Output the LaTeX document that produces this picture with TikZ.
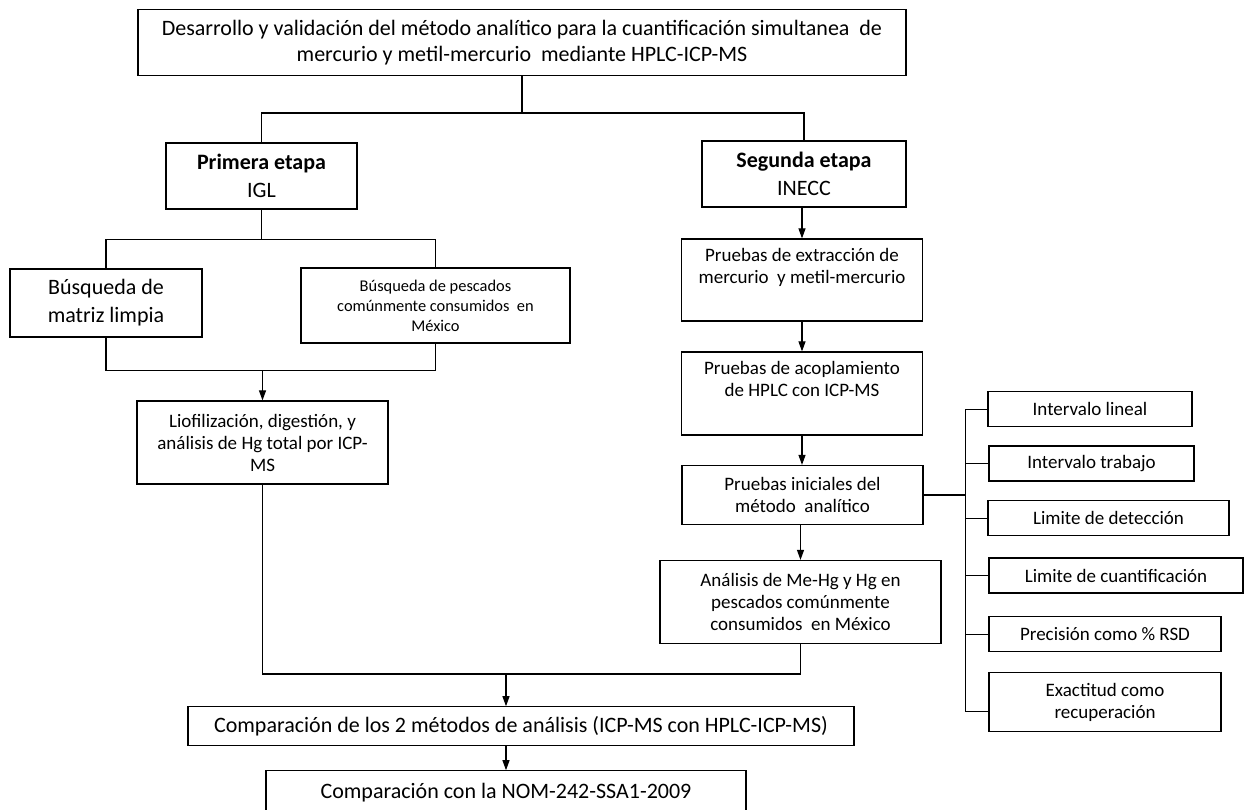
\documentclass[tikz,border=0pt]{standalone}
\usepackage{fontspec}
\setmainfont{Carlito}
\usetikzlibrary{arrows.meta}
\tikzset{caja/.style={rectangle, draw=black, line width=1.2pt, inner sep=0pt, text centered, align=center},
         grande/.style={caja, font=\fontsize{22}{26}\selectfont},
         etapa/.style={caja, font=\fontsize{22}{28}\selectfont},
         mediana/.style={caja, font=\fontsize{19}{22}\selectfont},
         chica/.style={caja, font=\fontsize{16.4}{20}\selectfont}}

\begin{document}
\begin{tikzpicture}[x=1pt, y=-1pt, line width=1.1pt, >={Triangle[length=10pt, width=7pt]}]
        \useasboundingbox (0,0) rectangle (1245,810);

        \node (titulo)[grande, minimum width=768pt, minimum height=66pt] at (522,42.7) {Desarrollo y validación del método analítico para la cuantificación simultanea\ \ de\\mercurio y metil-mercurio\ \ mediante HPLC-ICP-MS};

        \node (primera)[etapa, minimum width=191pt, minimum height=66pt] at (261.5,176) {\textbf{Primera etapa}\\IGL};
        \node (segunda)[etapa, minimum width=204pt, minimum height=66pt] at (804,174) {\textbf{Segunda etapa}\\INECC};
        \coordinate (t1) at (522,113);
        \draw (titulo) -- (t1) -| (primera);
        \draw (t1) -| (segunda);

        \node (matriz)[etapa, minimum width=192pt, minimum height=68pt] at (106,303) {Búsqueda de\\matriz limpia};
        \node (pescados)[chica, minimum width=269pt, minimum height=75pt] at (435.5,305.5) {Búsqueda de pescados\\comúnmente consumidos\ \ en\\México};
        \coordinate (p1) at (261.5,239.3);
        \draw (primera) -- (p1) -| (matriz);
        \draw (p1) -| (pescados);
        \node (liofil)[mediana, minimum width=251pt, minimum height=83pt] at (262.5,442.5) {Liofilización, digestión, y\\análisis de Hg total por ICP-\\MS};
        \coordinate (p2) at (262.5,370.7);
        \draw (matriz) |- (p2) -| (pescados);
        \draw [->] (p2) -- (liofil);

        \node (extrac)[mediana, minimum width=241pt, minimum height=82pt] at (802,280) {Pruebas de extracción de\\mercurio\ \ y metil-mercurio\\\strut};
        \draw [->] (extrac |- segunda.south) -- (extrac);
        \node (acopla)[mediana, minimum width=241pt, minimum height=83pt] at (802,393.5) {Pruebas de acoplamiento\\de HPLC con ICP-MS\\\strut};
        \draw [->] (extrac) -- (acopla);
        \node (inicial)[mediana, minimum width=241pt, minimum height=59pt] at (802.5,495) {Pruebas iniciales del\\método\ \ analítico};
        \draw [->] (acopla) -- (acopla |- inicial.north);
        \node (analisis)[mediana, minimum width=281pt, minimum height=83pt] at (800.5,602) {Análisis de Me-Hg y Hg en\\pescados comúnmente\\consumidos\ \ en México};
        \draw [->] (analisis |- inicial.south) -- (analisis);

        \node (lineal)[mediana, minimum width=204pt, minimum height=35pt] at (1090,409.2) {Intervalo lineal};
        \node (trabajo)[mediana, minimum width=205pt, minimum height=35pt] at (1091.5,463.5) {Intervalo trabajo};
        \node (deteccion)[mediana, minimum width=241pt, minimum height=35pt] at (1108.5,518.3) {Limite de detección};
        \node (cuantif)[mediana, minimum width=254pt, minimum height=35pt] at (1116,575.5) {Limite de cuantificación};
        \node (precision)[mediana, minimum width=232pt, minimum height=35pt] at (1105,634.2) {Precisión como \% RSD};
        \node (exactitud)[mediana, minimum width=232pt, minimum height=59pt] at (1105,702.3) {Exactitud como\\recuperación};
        \coordinate (e1) at (965.7,495);
        \coordinate (e6) at (965.7,711.7);
        \draw (inicial) -- (e1);
        \draw (e1 |- lineal) -- (e6) -- (e6 -| exactitud.west);
        \foreach \item in {lineal, trabajo, deteccion, cuantif, precision}
            \draw (e1 |- \item) -- (\item);

        \node (comparacion)[grande, minimum width=666pt, minimum height=39pt] at (521,726.3) {Comparación de los 2 métodos de análisis (ICP-MS con HPLC-ICP-MS)};
        \node (nom)[grande, minimum width=480pt, minimum height=44pt] at (506,792.8) {Comparación con la NOM-242-SSA1-2009};
        \coordinate (c1) at (506,674);
        \draw (liofil) |- (c1) -| (analisis);
        \draw [->] (c1) -- (c1 |- comparacion.north);
        \draw [->] (c1 |- comparacion.south) -- (nom);
\end{tikzpicture}
\end{document}
